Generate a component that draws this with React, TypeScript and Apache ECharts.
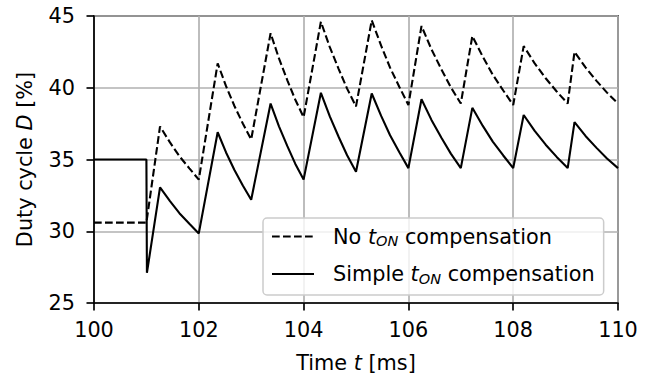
import React, { useEffect, useRef } from "react";
import * as echarts from "echarts";

const xTicks = [100, 102, 104, 106, 108, 110];
const yTicks = [25, 30, 35, 40, 45];

const seriesNames = ["No t_ON compensation", "Simple t_ON compensation"];

const noCompTime = [
  100, 101.0, 101.26, 101.45, 101.63, 101.82, 102.0,
  102.36, 102.52, 102.68, 102.84, 103.0,
  103.37, 103.53, 103.69, 103.84, 104.0,
  104.33, 104.5, 104.67, 104.83, 105.0,
  105.3, 105.48, 105.65, 105.83, 106.0,
  106.25, 106.44, 106.63, 106.81, 107.0,
  107.22, 107.42, 107.61, 107.81, 108.0,
  108.2, 108.41, 108.62, 108.83, 109.04,
  109.17, 109.38, 109.59, 109.79, 110,
];
const noCompDuty = [
  30.6, 30.6, 37.3, 36.19, 35.23, 34.38, 33.6,
  41.7, 40.11, 38.73, 37.51, 36.4,
  43.8, 42.04, 40.52, 39.18, 37.95,
  44.6, 42.83, 41.3, 39.94, 38.7,
  44.7, 42.93, 41.4, 40.04, 38.8,
  44.3, 42.68, 41.28, 40.03, 38.9,
  43.6, 42.16, 40.91, 39.81, 38.8,
  42.9, 41.7, 40.66, 39.74, 38.9,
  42.5, 41.42, 40.48, 39.66, 38.9,
];

const simpleTime = [
  100, 101.0, 101.01, 101.26, 101.45, 101.63, 101.82, 102.0,
  102.36, 102.52, 102.68, 102.84, 103.0,
  103.37, 103.53, 103.69, 103.84, 104.0,
  104.33, 104.5, 104.67, 104.83, 105.0,
  105.3, 105.48, 105.65, 105.83, 106.0,
  106.25, 106.44, 106.63, 106.81, 107.0,
  107.22, 107.42, 107.61, 107.81, 108.0,
  108.2, 108.41, 108.62, 108.83, 109.04,
  109.17, 109.38, 109.59, 109.79, 110,
];
const simpleDuty = [
  35, 35, 27.1, 33.06, 32.1, 31.26, 30.52, 29.85,
  36.9, 35.49, 34.27, 33.19, 32.2,
  38.9, 37.31, 35.93, 34.71, 33.6,
  39.65, 38.0, 36.57, 35.3, 34.15,
  39.6, 38.04, 36.69, 35.49, 34.4,
  39.2, 37.76, 36.51, 35.41, 34.4,
  38.6, 37.34, 36.25, 35.28, 34.4,
  38.1, 36.99, 36.03, 35.18, 34.4,
  37.6, 36.64, 35.81, 35.07, 34.4,
];

const FONT = "DejaVu Sans";
const FS = 20.8;

function pairs(t: number[], v: number[]) {
  return t.map((x, i) => [x, v[i]]);
}

export default function App() {
  const ref = useRef<HTMLDivElement>(null);
  useEffect(() => {
    if (!ref.current) return;
    const chart = echarts.init(ref.current, null, { renderer: "svg" });
    const axisLine = { show: true, lineStyle: { color: "#000", width: 1.67 } };
    const axisTick = { show: true, inside: false, length: 7.5, lineStyle: { color: "#000", width: 1.67 } };
    const splitLine = { show: true, lineStyle: { color: "#b0b0b0", width: 1.67 } };
    chart.setOption({
      animation: false,
      textStyle: { fontFamily: FONT },
      grid: {
        left: 94,
        right: 39,
        top: 16,
        bottom: 77,
        show: true,
        borderColor: "#000",
        borderWidth: 1.67,
        backgroundColor: "transparent",
      },
      xAxis: {
        type: "value",
        min: xTicks[0],
        max: xTicks[xTicks.length - 1],
        interval: xTicks[1] - xTicks[0],
        axisLine,
        axisTick,
        splitLine,
        axisLabel: { color: "#000", fontSize: FS, fontFamily: FONT, margin: 16 },
        name: "Time {i|t} [ms]",
        nameLocation: "middle",
        nameGap: 49,
        nameTextStyle: {
          color: "#000",
          fontSize: FS,
          fontFamily: FONT,
          rich: { i: { fontStyle: "italic", fontSize: FS, fontFamily: FONT, color: "#000" } },
        },
      },
      yAxis: {
        type: "value",
        min: yTicks[0],
        max: yTicks[yTicks.length - 1],
        interval: yTicks[1] - yTicks[0],
        axisLine,
        axisTick,
        splitLine,
        axisLabel: { color: "#000", fontSize: FS, fontFamily: FONT, margin: 19 },
        name: "Duty cycle {i|D} [%]",
        nameLocation: "middle",
        nameGap: 59,
        nameTextStyle: {
          color: "#000",
          fontSize: FS,
          fontFamily: FONT,
          rich: { i: { fontStyle: "italic", fontSize: FS, fontFamily: FONT, color: "#000" } },
        },
      },
      legend: {
        show: true,
        orient: "vertical",
        left: 263,
        top: 218,
        itemWidth: 42,
        itemHeight: 20,
        itemGap: 15,
        padding: [8, 9, 9, 8],
        backgroundColor: "rgba(255,255,255,0.8)",
        borderColor: "#cccccc",
        borderWidth: 1.5,
        borderRadius: 4,
        data: seriesNames,
        itemStyle: { opacity: 0, borderWidth: 0 },
        formatter: (name: string) => name.replace("t_ON", "{i|t}{s|ON}"),
        textStyle: {
          color: "#000",
          fontSize: FS,
          fontFamily: FONT,
          padding: [0, 0, 0, 14],
          rich: {
            i: { fontStyle: "italic", fontSize: FS, fontFamily: FONT, color: "#000" },
            s: { fontStyle: "italic", fontSize: 14.5, fontFamily: FONT, color: "#000", padding: [9, 0, 0, 0] },
          },
        },
      },
      series: [
        {
          name: seriesNames[0],
          type: "line",
          data: pairs(noCompTime, noCompDuty),
          symbol: "none",
          showSymbol: false,
          lineStyle: { color: "#000", width: 2.1, type: [7.7, 3.3] },
          itemStyle: { color: "#000" },
        },
        {
          name: seriesNames[1],
          type: "line",
          data: pairs(simpleTime, simpleDuty),
          symbol: "none",
          showSymbol: false,
          lineStyle: { color: "#000", width: 2.1, type: "solid" },
          itemStyle: { color: "#000" },
        },
      ],
    });
    return () => chart.dispose();
  }, []);
  return (
    <div
      ref={ref}
      style={{ position: "fixed", left: 0, top: 0, width: 657, height: 380, background: "#fff" }}
    />
  );
}
